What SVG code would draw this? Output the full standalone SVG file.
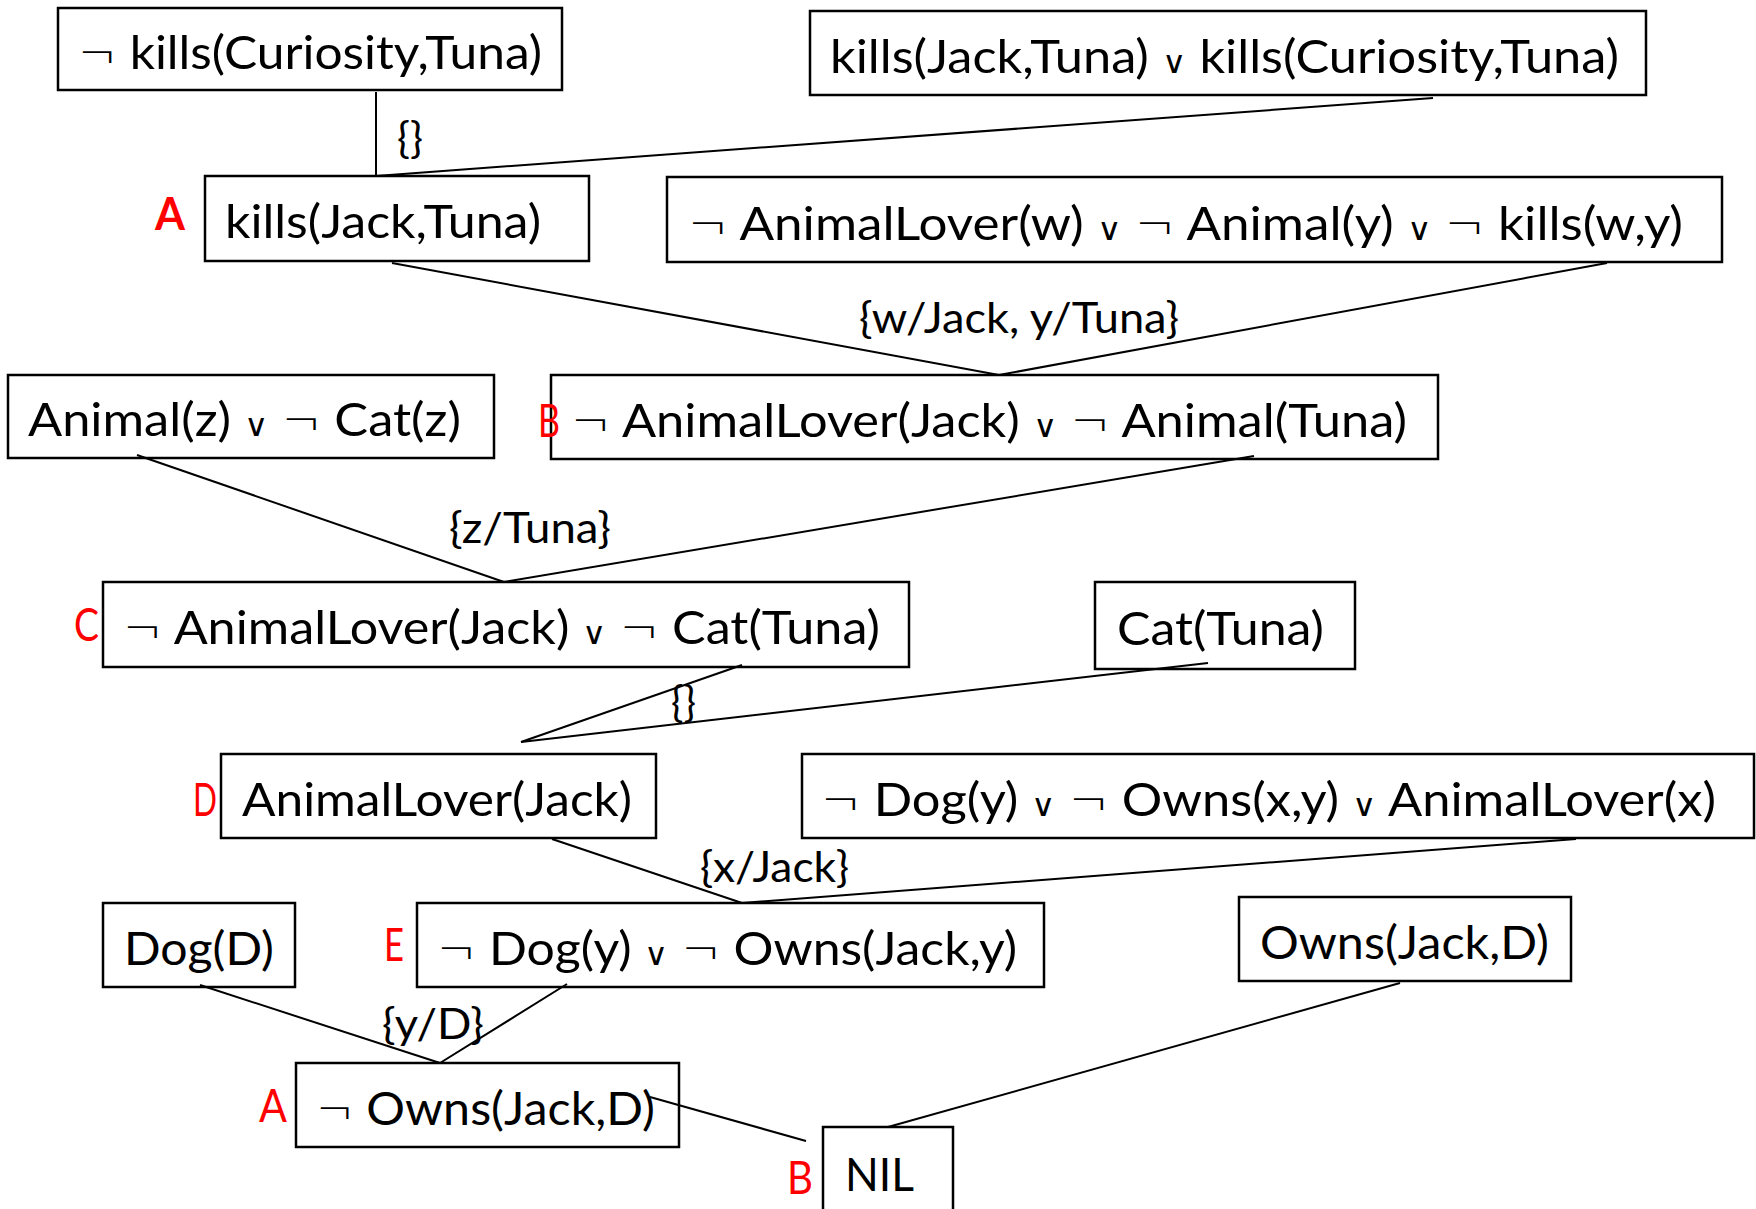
<svg xmlns="http://www.w3.org/2000/svg" width="1756" height="1209" viewBox="0 0 1756 1209">
  <style>
    .box { fill: #ffffff; stroke: #000000; stroke-width: 2.5; }
    .clause { font-family: "Lato", "Open Sans", "Liberation Sans", sans-serif; font-size: 47px; fill: #000000; }
    .subst { font-family: "Lato", "Open Sans", "Liberation Sans", sans-serif; font-size: 42px; fill: #000000; }
    .tag { font-family: "Lato", "Open Sans", "Liberation Sans", sans-serif; font-size: 46px; fill: #ff0000; }
    .tag-bold { font-weight: bold; }
    .or { font-family: "DejaVu Sans", sans-serif; font-size: 31px; font-weight: 200; }
    .not { font-family: "DejaVu Sans", sans-serif; font-size: 44px; font-weight: 200; }
    .edge { stroke: #000000; stroke-width: 2; fill: none; }
  </style>

  <!-- unifier labels -->
  <g id="substitutions">
    <text class="subst" x="397" y="153" textLength="26" lengthAdjust="spacingAndGlyphs">{}</text>
    <text class="subst" x="859" y="333" textLength="320" lengthAdjust="spacingAndGlyphs">{w/Jack, y/Tuna}</text>
    <text class="subst" x="449" y="543" textLength="162" lengthAdjust="spacingAndGlyphs">{z/Tuna}</text>
    <text class="subst" x="671" y="717" textLength="25" lengthAdjust="spacingAndGlyphs">{}</text>
    <text class="subst" x="700" y="882" textLength="149" lengthAdjust="spacingAndGlyphs">{x/Jack}</text>
    <text class="subst" x="382" y="1039" textLength="102" lengthAdjust="spacingAndGlyphs">{y/D}</text>
  </g>

  <g id="n-not-kills-curiosity">
    <rect class="box" x="58" y="8" width="504" height="82"/>
    <text class="clause" x="78" y="69" textLength="464" lengthAdjust="spacingAndGlyphs"><tspan class="not">¬</tspan> kills(Curiosity,Tuna)</text>
  </g>

  <g id="n-kills-either">
    <rect class="box" x="810" y="11" width="836" height="84"/>
    <text class="clause" x="830" y="73" textLength="789" lengthAdjust="spacingAndGlyphs">kills(Jack,Tuna) <tspan class="or">∨</tspan> kills(Curiosity,Tuna)</text>
  </g>

  <g id="n-kills-jack">
    <rect class="box" x="205" y="176" width="384" height="85"/>
    <text class="clause" x="225" y="238" textLength="316" lengthAdjust="spacingAndGlyphs">kills(Jack,Tuna)</text>
    <text class="tag tag-bold" x="155" y="230" textLength="30" lengthAdjust="spacingAndGlyphs">A</text>
  </g>

  <g id="n-animal-lover-rule">
    <rect class="box" x="667" y="177" width="1055" height="85"/>
    <text class="clause" x="688" y="240" textLength="995" lengthAdjust="spacingAndGlyphs"><tspan class="not">¬</tspan> AnimalLover(w) <tspan class="or">∨</tspan> <tspan class="not">¬</tspan> Animal(y) <tspan class="or">∨</tspan> <tspan class="not">¬</tspan> kills(w,y)</text>
  </g>

  <g id="n-cat-animal">
    <rect class="box" x="8" y="375" width="486" height="83"/>
    <text class="clause" x="28" y="436" textLength="433" lengthAdjust="spacingAndGlyphs">Animal(z) <tspan class="or">∨</tspan> <tspan class="not">¬</tspan> Cat(z)</text>
  </g>

  <g id="n-step-b">
    <rect class="box" x="551" y="375" width="887" height="84"/>
    <text class="clause" x="571" y="437" textLength="836" lengthAdjust="spacingAndGlyphs"><tspan class="not">¬</tspan> AnimalLover(Jack) <tspan class="or">∨</tspan> <tspan class="not">¬</tspan> Animal(Tuna)</text>
    <text class="tag" x="538" y="437" textLength="22" lengthAdjust="spacingAndGlyphs">B</text>
  </g>

  <g id="n-step-c">
    <rect class="box" x="103" y="582" width="806" height="85"/>
    <text class="clause" x="123" y="644" textLength="757" lengthAdjust="spacingAndGlyphs"><tspan class="not">¬</tspan> AnimalLover(Jack) <tspan class="or">∨</tspan> <tspan class="not">¬</tspan> Cat(Tuna)</text>
    <text class="tag" x="74" y="641" textLength="25" lengthAdjust="spacingAndGlyphs">C</text>
  </g>

  <g id="n-cat-tuna">
    <rect class="box" x="1095" y="582" width="260" height="87"/>
    <text class="clause" x="1117" y="645" textLength="207" lengthAdjust="spacingAndGlyphs">Cat(Tuna)</text>
  </g>

  <g id="n-step-d">
    <rect class="box" x="221" y="754" width="435" height="84"/>
    <text class="clause" x="242" y="816" textLength="390" lengthAdjust="spacingAndGlyphs">AnimalLover(Jack)</text>
    <text class="tag" x="193" y="816" textLength="24" lengthAdjust="spacingAndGlyphs">D</text>
  </g>

  <g id="n-dog-owner-rule">
    <rect class="box" x="802" y="754" width="952" height="84"/>
    <text class="clause" x="821" y="816" textLength="895" lengthAdjust="spacingAndGlyphs"><tspan class="not">¬</tspan> Dog(y) <tspan class="or">∨</tspan> <tspan class="not">¬</tspan> Owns(x,y) <tspan class="or">∨</tspan> AnimalLover(x)</text>
  </g>

  <g id="n-dog-d">
    <rect class="box" x="103" y="903" width="192" height="84"/>
    <text class="clause" x="124" y="965" textLength="150" lengthAdjust="spacingAndGlyphs">Dog(D)</text>
  </g>

  <g id="n-step-e">
    <rect class="box" x="417" y="903" width="627" height="84"/>
    <text class="clause" x="437" y="965" textLength="580" lengthAdjust="spacingAndGlyphs"><tspan class="not">¬</tspan> Dog(y) <tspan class="or">∨</tspan> <tspan class="not">¬</tspan> Owns(Jack,y)</text>
    <text class="tag" x="384" y="961" textLength="20" lengthAdjust="spacingAndGlyphs">E</text>
  </g>

  <g id="n-owns-jack-d">
    <rect class="box" x="1239" y="897" width="332" height="84"/>
    <text class="clause" x="1260" y="959" textLength="289" lengthAdjust="spacingAndGlyphs">Owns(Jack,D)</text>
  </g>

  <g id="n-not-owns">
    <rect class="box" x="296" y="1063" width="383" height="84"/>
    <text class="clause" x="316" y="1125" textLength="339" lengthAdjust="spacingAndGlyphs"><tspan class="not">¬</tspan> Owns(Jack,D)</text>
    <text class="tag" x="259" y="1122" textLength="28" lengthAdjust="spacingAndGlyphs">A</text>
  </g>

  <g id="n-nil">
    <rect class="box" x="823" y="1127" width="130" height="92"/>
    <text class="clause" x="845" y="1191" textLength="69" lengthAdjust="spacingAndGlyphs">NIL</text>
    <text class="tag" x="787" y="1194" textLength="26" lengthAdjust="spacingAndGlyphs">B</text>
  </g>

  <!-- resolution steps: lines joining parent clauses to their resolvent, drawn over the boxes -->
  <g id="connectors">
    <line class="edge" x1="376" y1="92" x2="376" y2="176"/>
    <line class="edge" x1="1433" y1="98" x2="376" y2="176"/>
    <line class="edge" x1="392" y1="263" x2="999" y2="375"/>
    <line class="edge" x1="1607" y1="263" x2="999" y2="375"/>
    <line class="edge" x1="137" y1="455" x2="504" y2="582"/>
    <line class="edge" x1="1254" y1="456" x2="504" y2="582"/>
    <line class="edge" x1="742" y1="665" x2="521" y2="742"/>
    <line class="edge" x1="1208" y1="663" x2="521" y2="742"/>
    <line class="edge" x1="552" y1="839" x2="742" y2="903"/>
    <line class="edge" x1="1576" y1="839" x2="742" y2="903"/>
    <line class="edge" x1="200" y1="985" x2="440" y2="1063"/>
    <line class="edge" x1="567" y1="984" x2="440" y2="1063"/>
    <line class="edge" x1="650" y1="1097" x2="806" y2="1141"/>
    <line class="edge" x1="1400" y1="983" x2="888" y2="1127"/>
  </g>
</svg>
